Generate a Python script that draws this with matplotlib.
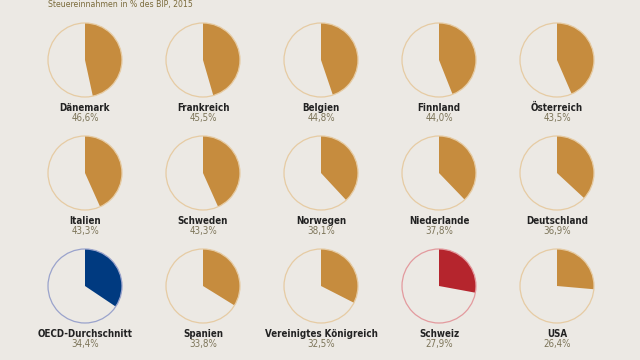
import matplotlib
matplotlib.use("Agg")
import matplotlib.pyplot as plt

countries = ["Dänemark", "Frankreich", "Belgien", "Finnland", "Österreich",
             "Italien", "Schweden", "Norwegen", "Niederlande", "Deutschland",
             "OECD-Durchschnitt", "Spanien", "Vereinigtes Königreich", "Schweiz", "USA"]
values = [46.6, 45.5, 44.8, 44.0, 43.5,
          43.3, 43.3, 38.1, 37.8, 36.9,
          34.4, 33.8, 32.5, 27.9, 26.4]
title = "Steuereinnahmen in % des BIP, 2015"

bg = "#ECE9E4"
fill_cols = {"OECD-Durchschnitt": "#003A80", "Schweiz": "#B5252D"}
edge_cols = {"OECD-Durchschnitt": "#9AA3CC", "Schweiz": "#E39A9E"}
gold, gold_edge = "#C68C3E", "#E6CBA3"

font = dict(family="DejaVu Sans", fontstretch="condensed")

fig = plt.figure(figsize=(6.4, 3.6), dpi=100, facecolor=bg)
ax = fig.add_axes([0, 0, 1, 1])
ax.set_facecolor(bg)

col_x = [85, 203, 321, 439, 557]
row_y = [60, 173, 286]
r = 37

for i, (name, v) in enumerate(zip(countries, values)):
    cx = col_x[i % 5]
    cy = row_y[i // 5]
    fc = fill_cols.get(name, gold)
    ec = edge_cols.get(name, gold_edge)
    ax.pie([v, 100 - v], colors=[fc, "none"], startangle=90, counterclock=False,
           center=(cx, -cy), radius=r, wedgeprops=dict(linewidth=0))
    circ = plt.Circle((cx, -cy), r, fill=False, edgecolor=ec, linewidth=0.9)
    ax.add_patch(circ)
    ax.text(cx, -(cy + 48), name, ha="center", va="center", fontsize=7,
            fontweight="bold", color="#222222", **font)
    ax.text(cx, -(cy + 58), f"{v:.1f}%".replace(".", ","), ha="center", va="center",
            fontsize=7, color="#7C7458", **font)

ax.text(48, -5, title, ha="left", va="center", fontsize=6.2, color="#7A6A3A", **font)

ax.set_xlim(0, 640)
ax.set_ylim(-360, 0)
ax.set_aspect("auto")
ax.axis("off")

fig.savefig("out.png", dpi=100, facecolor=bg)
